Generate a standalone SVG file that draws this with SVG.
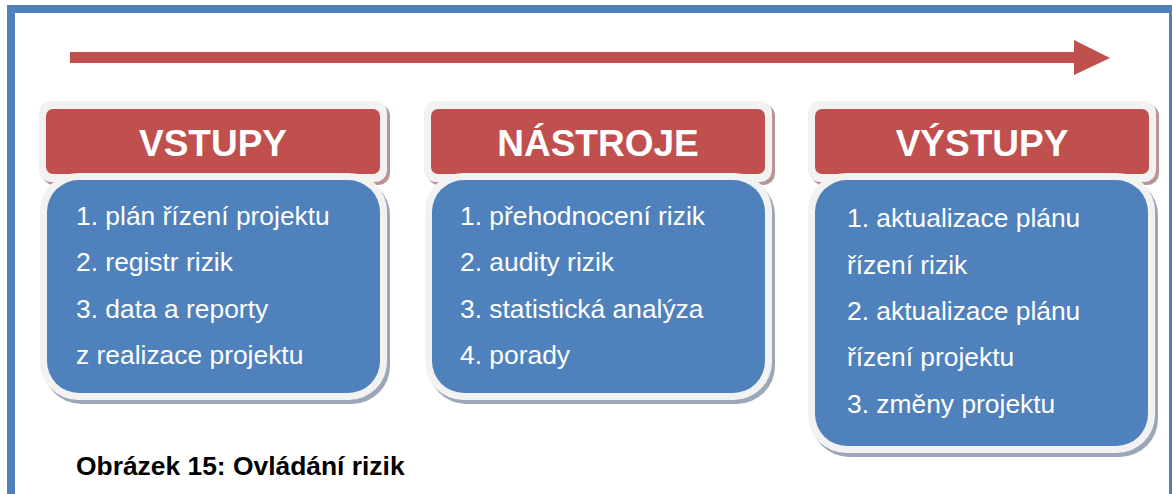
<svg xmlns="http://www.w3.org/2000/svg" width="1172" height="494" viewBox="0 0 1172 494">
  <style>
    .frame { fill: none; stroke: #4f81bd; }
    .hdr-shadow { fill: #b99494; }
    .body-shadow { fill: #9ba7b9; }
    .rim { fill: #f2f2f2; }
    .hdr { fill: #c0504d; }
    .body { fill: #4f81bd; }
    .title { font-family: "Liberation Sans", Arial, sans-serif; font-weight: bold; font-size: 37px; fill: #ffffff; text-anchor: middle; }
    .item { font-family: "Liberation Sans", Arial, sans-serif; font-size: 26.4px; fill: #ffffff; }
    .caption { font-family: "Liberation Sans", Arial, sans-serif; font-weight: bold; font-size: 26.4px; fill: #000000; }
  </style>

  <rect width="1172" height="494" fill="#ffffff"/>

  <!-- outer page frame -->
  <g id="frame">
    <rect x="7" y="5" width="8" height="489" fill="#4f81bd"/>
    <rect x="7" y="5" width="1165" height="8" fill="#4f81bd"/>
    <rect x="1169" y="5" width="3" height="489" fill="#4f81bd"/>
  </g>

  <!-- process direction arrow -->
  <g id="connectors">
    <path d="M70 52 H1074 V40 L1110 58 L1074 75 V63 H70 Z" fill="#c0504d"/>
  </g>

  <!-- inputs -->
  <g id="vstupy">
    <rect class="hdr-shadow" x="42" y="104" width="348" height="81" rx="12"/>
    <rect class="rim" x="39" y="101" width="348" height="81" rx="12"/>
    <rect class="hdr" x="46" y="109" width="334" height="65" rx="7"/>
    <text class="title" x="213" y="156">VSTUPY</text>
    <rect class="body-shadow" x="43" y="177" width="347" height="227" rx="38"/>
    <rect class="rim" x="40" y="173" width="347" height="227" rx="38"/>
    <rect class="body" x="47" y="180" width="333" height="213" rx="32"/>
    <text class="item" x="76" y="225">1. plán řízení projektu</text>
    <text class="item" x="76" y="271">2. registr rizik</text>
    <text class="item" x="76" y="318">3. data a reporty</text>
    <text class="item" x="76" y="364">z realizace projektu</text>
  </g>

  <!-- tools -->
  <g id="nastroje">
    <rect class="hdr-shadow" x="427" y="104" width="348" height="81" rx="12"/>
    <rect class="rim" x="424" y="101" width="348" height="81" rx="12"/>
    <rect class="hdr" x="431" y="109" width="334" height="65" rx="7"/>
    <text class="title" x="598" y="156">NÁSTROJE</text>
    <rect class="body-shadow" x="428" y="177" width="347" height="227" rx="38"/>
    <rect class="rim" x="425" y="173" width="347" height="227" rx="38"/>
    <rect class="body" x="432" y="180" width="333" height="213" rx="32"/>
    <text class="item" x="460" y="225">1. přehodnocení rizik</text>
    <text class="item" x="460" y="271">2. audity rizik</text>
    <text class="item" x="460" y="318">3. statistická analýza</text>
    <text class="item" x="460" y="364">4. porady</text>
  </g>

  <!-- outputs -->
  <g id="vystupy">
    <rect class="hdr-shadow" x="811" y="104" width="348" height="81" rx="12"/>
    <rect class="rim" x="808" y="101" width="348" height="81" rx="12"/>
    <rect class="hdr" x="815" y="109" width="334" height="65" rx="7"/>
    <text class="title" x="982" y="156">VÝSTUPY</text>
    <rect class="body-shadow" x="811" y="177" width="347" height="280" rx="38"/>
    <rect class="rim" x="808" y="173" width="347" height="280" rx="38"/>
    <rect class="body" x="815" y="180" width="333" height="266" rx="32"/>
    <text class="item" x="847" y="227">1. aktualizace plánu</text>
    <text class="item" x="847" y="274">řízení rizik</text>
    <text class="item" x="847" y="320">2. aktualizace plánu</text>
    <text class="item" x="847" y="366">řízení projektu</text>
    <text class="item" x="847" y="413">3. změny projektu</text>
  </g>

  <g id="caption">
    <text class="caption" x="76" y="475">Obrázek 15: Ovládání rizik</text>
  </g>
</svg>
